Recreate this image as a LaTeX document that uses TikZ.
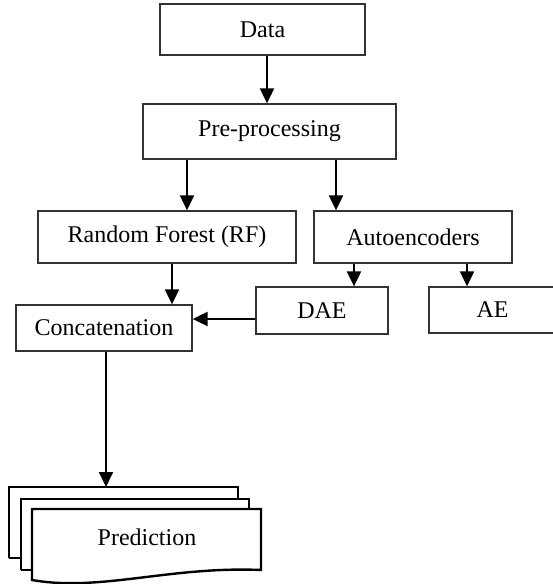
\documentclass[tikz,border=0pt]{standalone}
\usepackage{fontspec}
\setmainfont{Liberation Serif}
\usetikzlibrary{arrows.meta,calc}
\begin{document}
\begin{tikzpicture}[x=1pt,y=-1pt,
  box/.style={draw=black!80,line width=1.3pt,rectangle,inner sep=0pt,font=\fontsize{24}{27}\selectfont},
  arr/.style={draw=black,line width=2pt,-{Triangle[length=15pt,width=14pt]}},
  sheet/.style={draw=black,line width=2.4pt,fill=white,line join=miter}]
\useasboundingbox (0,0) rectangle (552,584);
\node[box,minimum width=205pt,minimum height=51pt] (data) at (262.5,29.5) {Data};
\node[box,minimum width=253pt,minimum height=55pt] (pre) at (269.5,131.5) {Pre-processing};
\node[box,minimum width=258pt,minimum height=52pt] (rf) at (167,237) {Random Forest (RF)};
\node[box,minimum width=198pt,minimum height=52pt] (auto) at (413,237) {Autoencoders};
\node[box,minimum width=132pt,minimum height=47pt] (dae) at (322,310.5) {DAE};
\node[box,minimum width=150pt,minimum height=46pt] (ae) at (504,310) {\hspace*{-23pt}AE};
\node[box,minimum width=176pt,minimum height=46pt] (concat) at (104,328) {Concatenation};
% Prediction multi-document
\draw[sheet] (9,558) -- (9,487) -- (238,487) -- (238,499);
\draw[sheet] (21,570) -- (21,499) -- (249,499) -- (249,509);
\draw[sheet] (32,580) -- (32,509) -- (261,509) -- (261,570)
  .. controls (170,566) and (100,592) .. (32,580) -- cycle;
\draw[sheet,fill=none] (9,558) -- (21,558);
\draw[sheet,fill=none] (21,570) -- (32,570);
\node[font=\fontsize{24}{27}\selectfont] (pred) at (147,537) {Prediction};
\coordinate (predtop) at (106,487);
% arrows
\draw[arr] ([xshift=4.5pt]data.south) -- ([xshift=4.5pt]data.south |- pre.north);
\draw[arr] (pre.south -| 187,0) -- (rf.north -| 187,0);
\draw[arr] (pre.south -| 336,0) -- (auto.north -| 336,0);
\draw[arr] (auto.south -| 354,0) -- (dae.north -| 354,0);
\draw[arr] (auto.south -| 467,0) -- (ae.north -| 467,0);
\draw[arr] (rf.south -| 172,0) -- (concat.north -| 172,0);
\draw[arr] (dae.west |- 0,319) -- (concat.east |- 0,319);
\draw[arr] (concat.south -| predtop) -- (predtop);
\end{tikzpicture}
\end{document}
